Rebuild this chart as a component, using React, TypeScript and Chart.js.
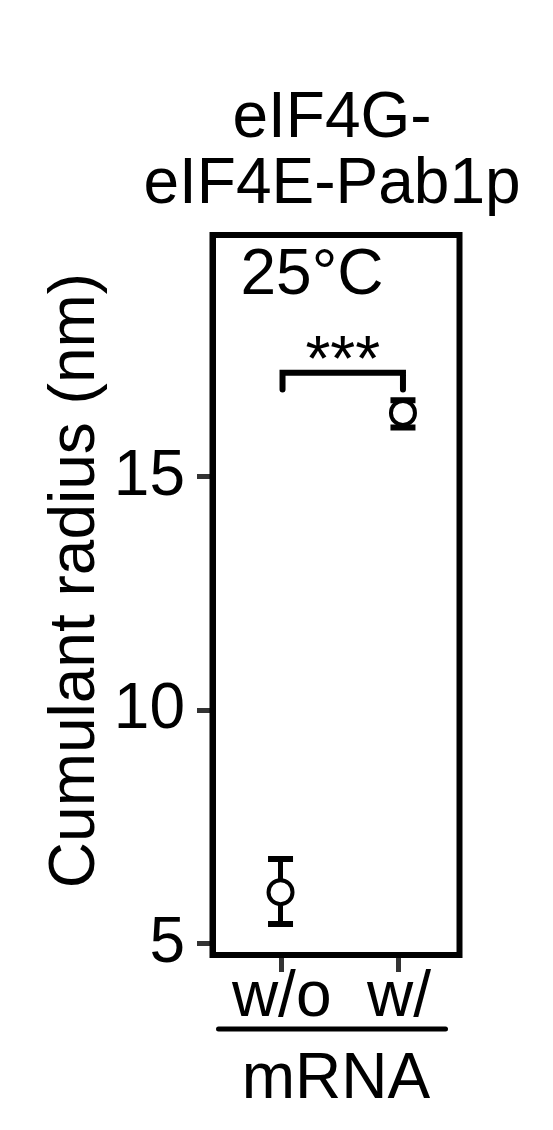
import React, { useEffect, useRef } from "react";
import { Chart, registerables } from "chart.js";

Chart.register(...registerables);

// ---- data ----
const categories = ["w/o", "w/"];
const tickPositions = [1, 2];
const pointPositions = [0.99, 2.034];
const means = [6.11, 16.37];
const errLow = [5.43, 16.06];
const errHigh = [6.82, 16.64];
const yTicks = [5, 10, 15];
const titleLines = ["eIF4G-", "eIF4E-Pab1p"];
const annotationText = "25°C";
const significance = "***";
const bracketTop = 17.23;
const bracketBottom = 16.87;
const yTitle = "Cumulant radius (nm)";
const xTitle = "mRNA";

const FONT = "'Liberation Sans', Arial, Helvetica, sans-serif";

const overlayPlugin = {
  id: "overlay",
  beforeDatasetsDraw(chart: any) {
    const { ctx, scales } = chart;
    const xs = scales.x;
    const ys = scales.y;
    ctx.save();
    ctx.strokeStyle = "#000";
    ctx.lineCap = "butt";
    for (let i = 0; i < means.length; i++) {
      const px = xs.getPixelForValue(pointPositions[i]);
      const yl = ys.getPixelForValue(errLow[i]);
      const yh = ys.getPixelForValue(errHigh[i]);
      ctx.lineWidth = 5;
      ctx.beginPath();
      ctx.moveTo(px, yl);
      ctx.lineTo(px, yh);
      ctx.stroke();
      ctx.lineWidth = 6;
      ctx.beginPath();
      ctx.moveTo(px - 12.5, yl);
      ctx.lineTo(px + 12.5, yl);
      ctx.moveTo(px - 12.5, yh);
      ctx.lineTo(px + 12.5, yh);
      ctx.stroke();
    }
    ctx.restore();
  },
  afterDraw(chart: any) {
    const { ctx, scales, chartArea } = chart;
    const xs = scales.x;
    const ys = scales.y;
    ctx.save();
    // panel border
    ctx.strokeStyle = "#000";
    ctx.lineWidth = 6;
    ctx.lineJoin = "miter";
    ctx.strokeRect(
      chartArea.left,
      chartArea.top,
      chartArea.right - chartArea.left,
      chartArea.bottom - chartArea.top
    );

    // significance bracket
    const bx1 = xs.getPixelForValue(pointPositions[0]) + 2;
    const bx2 = xs.getPixelForValue(pointPositions[1]);
    const bt = ys.getPixelForValue(bracketTop);
    const bb = ys.getPixelForValue(bracketBottom);
    ctx.lineWidth = 6;
    ctx.lineCap = "round";
    ctx.lineJoin = "miter";
    ctx.beginPath();
    ctx.moveTo(bx1, bb);
    ctx.lineTo(bx1, bt);
    ctx.lineTo(bx2, bt);
    ctx.lineTo(bx2, bb);
    ctx.stroke();

    ctx.fillStyle = "#000";
    ctx.font = `64px ${FONT}`;
    ctx.textAlign = "center";
    ctx.textBaseline = "alphabetic";
    ctx.fillText(significance, (bx1 + bx2) / 2, bt + 8);

    // annotation
    ctx.fillText(annotationText, 312, 294);

    // title
    ctx.fillText(titleLines[0], 332, 137);
    ctx.fillText(titleLines[1], 332, 203);

    // y title
    ctx.save();
    ctx.translate(94, 580.5);
    ctx.rotate(-Math.PI / 2);
    ctx.fillText(yTitle, 0, 0);
    ctx.restore();

    // x title underline
    ctx.lineWidth = 5;
    ctx.lineCap = "round";
    ctx.beginPath();
    ctx.moveTo(218.5, 1029);
    ctx.lineTo(445.5, 1029);
    ctx.stroke();
    ctx.restore();
  },
};

export default function App() {
  const ref = useRef<HTMLCanvasElement | null>(null);
  useEffect(() => {
    if (!ref.current) return;
    const chart = new Chart(ref.current, {
      type: "scatter",
      data: {
        datasets: [
          {
            data: pointPositions.map((x, i) => ({ x, y: means[i] })),
            pointRadius: 12,
            pointHoverRadius: 12,
            pointBorderWidth: 4,
            borderWidth: 4,
            borderColor: "#000",
            backgroundColor: "#fff",
            pointBackgroundColor: "#fff",
            pointBorderColor: "#000",
          },
        ],
      },
      options: {
        responsive: false,
        animation: false,
        devicePixelRatio: 1,
        layout: { padding: { left: 0, top: 235, right: 93.5, bottom: 0 } },
        plugins: {
          legend: { display: false },
          tooltip: { enabled: false },
          title: { display: false },
        },
        scales: {
          x: {
            type: "linear",
            min: 0.41,
            max: 2.516,
            afterBuildTicks: (s: any) => {
              s.ticks = tickPositions.map((v) => ({ value: v }));
            },
            afterFit: (s: any) => {
              s.height = 175;
            },
            ticks: {
              callback: (_v: any, i: number) => categories[i],
              font: { size: 64, family: FONT },
              color: "#000",
              padding: -12.4,
              maxRotation: 0,
              minRotation: 0,
              autoSkip: false,
            },
            grid: {
              display: true,
              drawOnChartArea: false,
              drawTicks: true,
              tickLength: 17,
              tickWidth: 5,
              tickColor: "#333",
            },
            border: { display: true, color: "#000", width: 6 },
            title: {
              display: true,
              text: xTitle,
              color: "#000",
              font: { size: 64, family: FONT },
              padding: { top: 0, bottom: 11.6 },
            },
          },
          y: {
            type: "linear",
            min: 4.764,
            max: 20.18,
            afterBuildTicks: (s: any) => {
              s.ticks = yTicks.map((v) => ({ value: v }));
            },
            afterFit: (s: any) => {
              s.width = 212.5;
            },
            ticks: {
              font: { size: 64, family: FONT },
              color: "#000",
              padding: 12,
              autoSkip: false,
            },
            grid: {
              display: true,
              drawOnChartArea: false,
              drawTicks: true,
              tickLength: 15.5,
              tickWidth: 5,
              tickColor: "#333",
            },
            border: { display: true, color: "#000", width: 6 },
          },
        },
      },
      plugins: [overlayPlugin],
    } as any);
    return () => chart.destroy();
  }, []);
  return (
    <div style={{ position: "fixed", left: 0, top: 0, width: 553, height: 1130, background: "#fff" }}>
      <canvas ref={ref} width={553} height={1130} style={{ width: 553, height: 1130, display: "block" }} />
    </div>
  );
}
